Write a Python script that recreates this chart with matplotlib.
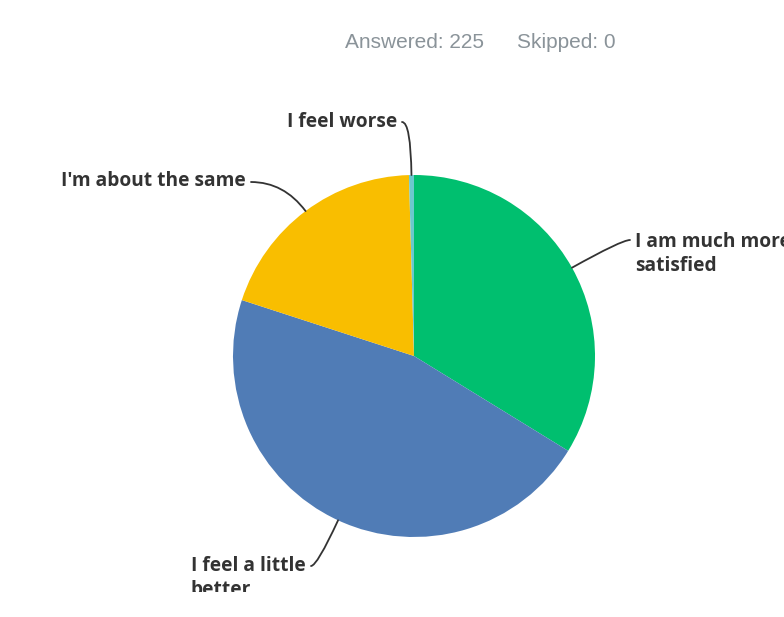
import matplotlib
matplotlib.use("Agg")
import matplotlib.pyplot as plt
import numpy as np

# survey answers (225 respondents)
labels = ["I am much more\nsatisfied", "I feel a little\nbetter", "I'm about the same", "I feel worse"]
counts = [76, 104, 44, 1]
colors = ["#00BF6F", "#507CB6", "#F9BE00", "#6BC8CD"]
answered = 225
skipped = 0

fig = plt.figure(figsize=(7.84, 6.17), dpi=100)
# chart area stops a little above the bottom edge; labels get clipped there
ax = fig.add_axes([0, 25 / 617, 1, 592 / 617])

cx, cy, r = 414, 261, 181
wedges, _ = ax.pie(counts, colors=colors, startangle=90, counterclock=False,
                   center=(cx, cy), radius=r, frame=True,
                   wedgeprops=dict(linewidth=0))
ax.set_xlim(0, 784)
ax.set_ylim(25, 617)
ax.set_aspect("equal")
ax.axis("off")

fig.text(345 / 784, 1 - 42 / 617, f"Answered: {answered}", color="#8A9399",
         fontsize=15, family="Liberation Sans", va="center", ha="left")
fig.text(517 / 784, 1 - 42 / 617, f"Skipped: {skipped}", color="#8A9399",
         fontsize=15, family="Liberation Sans", va="center", ha="left")

# where each label sits and where its leader line starts (y measured up)
label_pos = [(635, 617 - 254, "left"), (191, 617 - 578, "left"),
             (246, 617 - 181, "right"), (397, 617 - 122, "right")]
line_start = [(630, 617 - 240), (311, 617 - 566), (251, 617 - 182), (402, 617 - 122)]

for w, lab, (tx, ty, ha), (sx, sy) in zip(wedges, labels, label_pos, line_start):
    mid = np.deg2rad((w.theta1 + w.theta2) / 2)
    ex, ey = cx + r * np.cos(mid), cy + r * np.sin(mid)
    ax.annotate("", xy=(ex, ey), xytext=(sx, sy),
                arrowprops=dict(arrowstyle="-", color="#333333", lw=1.3,
                                shrinkA=0, shrinkB=0,
                                connectionstyle=f"angle3,angleA=0,angleB={np.rad2deg(mid):.1f}"))
    ax.text(tx, ty, lab, ha=ha, va="center", fontsize=13.8, fontweight="bold",
            family="Open Sans", color="#333333", linespacing=1.25, clip_on=True)

fig.savefig("out.png", dpi=100)
